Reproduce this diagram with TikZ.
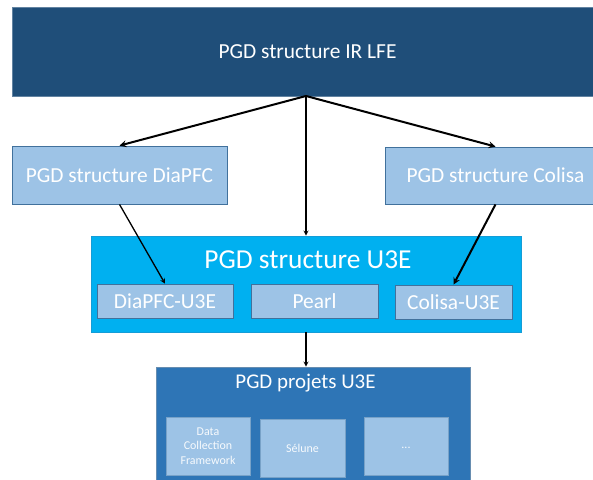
\documentclass[tikz,border=0pt]{standalone}
\usepackage{fontspec}
\setmainfont{Carlito}
\usepackage{tikz}

\definecolor{navy}{HTML}{1F4E79}
\definecolor{paleblue}{HTML}{9DC3E6}
\definecolor{cyanbox}{HTML}{00B0F0}
\definecolor{midblue}{HTML}{2E75B6}
\definecolor{edgeblue}{HTML}{41719C}

\tikzset{
    box/.style={rectangle,draw=edgeblue,line width=0.8bp,inner sep=0pt,text=white},
    bigfont/.style={font=\fontsize{21.5}{26}\selectfont},
    smallfont/.style={font=\fontsize{12}{14.5}\selectfont}
}

\begin{document}
\begin{tikzpicture}[x=1bp,y=-1bp,>=stealth]
            \useasboundingbox (0,0) rectangle (593,480);
            \node[box,fill=navy,draw=navy!70!white,minimum width=591bp,minimum height=89bp,bigfont] (lfe) at (307.5,51.5) {PGD structure IR LFE};
            \node[box,fill=paleblue,minimum width=215bp,minimum height=58bp,bigfont] (diapfc) at (119.5,175) {PGD structure DiaPFC};
            \node[box,fill=paleblue,minimum width=221bp,minimum height=57bp,bigfont] (colisa) at (495.5,175.5) {PGD structure Colisa};
            \node[box,fill=cyanbox,draw=cyanbox!70!edgeblue,minimum width=430bp,minimum height=96bp] (u3e) at (306,284) {};
            \node[text=white,inner sep=0pt,font=\fontsize{27.5}{32}\selectfont] (u3etitle) at (308,260) {PGD structure U3E};
            \node[box,fill=paleblue,minimum width=136bp,minimum height=34bp,bigfont] (diau) at (165,301) {DiaPFC-U3E};
            \node[box,fill=paleblue,minimum width=127bp,minimum height=34bp,bigfont] (pearl) at (314.5,301) {Pearl};
            \node[box,fill=paleblue,minimum width=117bp,minimum height=34bp,bigfont] (colisau) at (453.5,302) {Colisa-U3E};
            \node[box,fill=midblue,draw=edgeblue!80!white,minimum width=314bp,minimum height=133bp] (projets) at (313,433.5) {};
            \node[text=white,inner sep=0pt,font=\fontsize{21}{25}\selectfont] (projtitle) at (305.5,383.5) {PGD projets U3E};
            \node[box,fill=paleblue,draw=paleblue!60!edgeblue,text=white!92!paleblue,minimum width=84bp,minimum height=58bp,smallfont,align=center] (dcf) at (208,446) {Data\\Collection\\Framework};
            \node[box,fill=paleblue,draw=paleblue!60!edgeblue,text=white!92!paleblue,minimum width=85bp,minimum height=58bp,smallfont] (selune) at (302.5,448) {Sélune};
            \node[box,fill=paleblue,draw=paleblue!60!edgeblue,text=white!92!paleblue,minimum width=84bp,minimum height=58bp,smallfont] (etc) at (406,446) {\strut...};
            \coordinate (apex) at (306,96);
            \draw[->,line width=2bp] (apex) -- (diapfc.north);
            \draw[->,line width=2bp] (apex) -- (colisa.north);
            \draw[->,line width=1.2bp] (apex) -- (u3e.north);
            \draw[->,line width=1.3bp] (diapfc.south) -- (diau.north);
            \draw[->,line width=2bp] (colisa.south) -- (colisau.north);
            \draw[->,line width=1.2bp] (u3e.south) -- (u3e.south |- projets.north);
        \end{tikzpicture}
\end{document}
